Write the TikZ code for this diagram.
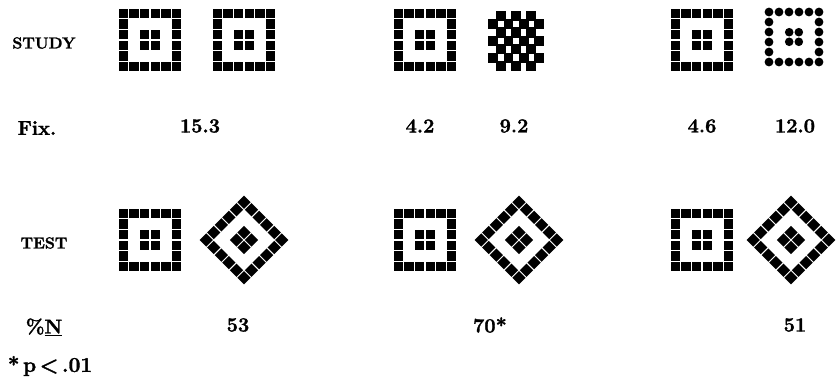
\documentclass[tikz,border=0pt]{standalone}
\usepackage{fontspec}
\usepackage{tikz}
\usetikzlibrary{positioning}
\newfontfamily\heavyfont{Latin Modern Roman}[FakeBold=1.6]
\tikzstyle{phase} = [font={\heavyfont\bfseries\fontsize{16}{20}\selectfont}, anchor=center, inner sep=0pt]
\tikzstyle{num} = [font={\heavyfont\bfseries\fontsize{20}{24}\selectfont}, anchor=center, inner sep=0pt]
\tikzstyle{note} = [font={\heavyfont\bfseries\fontsize{21}{24}\selectfont}, anchor=center, inner sep=0pt]
\tikzset{
  pics/ringsq/.style={code={
    \foreach \k in {-2.5,-1.5,...,2.5} {
      \fill (\k*10.7,-26.75) +(-4.7,-4.7) rectangle +(4.7,4.7);
      \fill (\k*10.7,26.75) +(-4.7,-4.7) rectangle +(4.7,4.7);
    }
    \foreach \k in {-1.5,-0.5,0.5,1.5} {
      \fill (-26.75,\k*10.7) +(-4.7,-4.7) rectangle +(4.7,4.7);
      \fill (26.75,\k*10.7) +(-4.7,-4.7) rectangle +(4.7,4.7);
    }
    \foreach \a in {-5.3,5.3}
      \foreach \b in {-5.3,5.3}
        \fill (\a,\b) +(-4.7,-4.7) rectangle +(4.7,4.7);
  }},
  pics/dotsq/.style={code={
    \foreach \k in {-2.5,-1.5,...,2.5} {
      \fill (\k*10,-25) circle (4.4);
      \fill (\k*10,25) circle (4.4);
    }
    \foreach \k in {-1.5,-0.5,0.5,1.5} {
      \fill (-25,\k*10) circle (4.4);
      \fill (25,\k*10) circle (4.4);
    }
    \foreach \a in {-4.8,4.8}
      \foreach \b in {-4.8,4.8}
        \fill (\a,\b) circle (4.3);
  }},
  pics/checker/.style={code={
    \foreach \i in {0,...,6}
      \foreach \j in {0,...,6} {
        \pgfmathtruncatemacro\odd{mod(\i+\j,2)}
        \ifnum\odd=1
          \fill ({(\i-3)*7.6},{(\j-3)*8.4}) +(-4.9,-5.1) rectangle +(4.9,5.1);
        \fi
      }
  }}
}

\begin{document}
\begin{tikzpicture}[x=1pt, y=-1pt]
    \useasboundingbox (0,0) rectangle (836,385);

    % Study row
    \node [phase] (study) at (44,43) {STUDY};
    \pic at (150,40) {ringsq};
    \pic at (244,40) {ringsq};
    \pic at (425,40) {ringsq};
    \pic at (516,41) {checker};
    \pic at (702,40) {ringsq};
    \pic at (794,37) {dotsq};

    % Fixation times
    \node [num] (fix) at (37,128) {Fix.};
    \node [num] (fixa) at (200,126) {15.3};
    \node [num] (fixb) at (420,126) {4.2};
    \node [num] (fixc) at (514,126) {9.2};
    \node [num] (fixd) at (702,126) {4.6};
    \node [num] (fixe) at (795,126) {12.0};

    % Test row
    \node [phase] (test) at (44,243) {TEST};
    \pic at (150,240) {ringsq};
    \pic [rotate=45] at (244,240) {ringsq};
    \pic at (425,240) {ringsq};
    \pic [rotate=45] at (519,240) {ringsq};
    \pic at (702,240) {ringsq};
    \pic [rotate=45] at (791,240) {ringsq};

    % Percent new
    \node [num] (pct) at (44,327) {\%\underline{N}};
    \node [num] (pcta) at (238,325) {53};
    \node [num] (pctb) at (490,325) {70*};
    \node [num] (pctc) at (795,325) {51};
    \node [note] (sig) at (50,366) {*\,p\,<\,.01};
\end{tikzpicture}
\end{document}
